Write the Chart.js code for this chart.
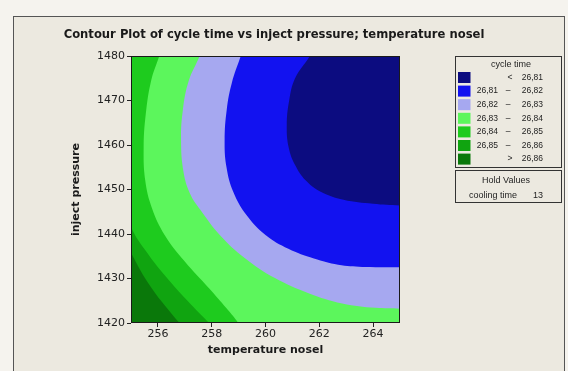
<!DOCTYPE html>
<html>
<head>
<meta charset="utf-8">
<script src="https://cdn.jsdelivr.net/npm/chart.js@4.4.1/dist/chart.umd.min.js"></script>
<style>
  html, body { margin: 0; padding: 0; background: #f5f3ee; }
  #frame { position: absolute; left: 13px; top: 16px; width: 550px; height: 400px; border: 1px solid #555; background: #ece9e0; }
  #wrap { position: absolute; left: 0; top: 0; width: 568px; height: 371px; }
</style>
</head>
<body>
<div id="frame"></div>
<div id="wrap"><canvas id="contour" width="568" height="371"></canvas></div>
<script>
const xRange = [255, 265];
const yRange = [1420, 1480];
const xTicks = [256, 258, 260, 262, 264];
const yTicks = [1420, 1430, 1440, 1450, 1460, 1470, 1480];

// cycle time bands, lowest first
const bandColors = ['#0c0c80', '#1212f0', '#a6a8f0', '#5cf65c', '#1ecb1e', '#10a410', '#0a780a'];
const bandSign = ['<', '\u2013', '\u2013', '\u2013', '\u2013', '\u2013', '>'];
const bandFrom = ['', '26,81', '26,82', '26,83', '26,84', '26,85', ''];
const bandTo = ['26,81', '26,82', '26,83', '26,84', '26,85', '26,86', '26,86'];

const holdName = 'cooling time';
const holdValue = '13';

// contour lines [temperature nosel, inject pressure], traced from the top down
const contourLevels = [26.81, 26.82, 26.83, 26.84, 26.85, 26.86];
const c2681 = [[261.9, 1483], [261.65, 1480], [261.1, 1475], [260.88, 1470], [260.79, 1464.5],
  [260.86, 1459.5], [261.1, 1455.5], [261.5, 1452], [262.05, 1449.5], [262.9, 1447.7],
  [264.0, 1446.8], [265.0, 1446.4], [266.0, 1446.2]];
const c2682 = [[259.25, 1483], [259.08, 1480], [258.75, 1474], [258.56, 1468], [258.48, 1461],
  [258.55, 1455], [258.8, 1449.5], [259.3, 1444.2], [260.0, 1439.8], [260.85, 1436.7],
  [261.8, 1434.5], [262.7, 1433.1], [263.6, 1432.6], [264.4, 1432.5], [265.4, 1432.45]];
const c2683 = [[257.7, 1483], [257.55, 1480], [257.15, 1474.5], [256.93, 1468], [256.86, 1461],
  [256.95, 1454], [257.2, 1449], [257.57, 1445.5], [258.3, 1439.8], [259.25, 1434.5],
  [260.35, 1430.1], [261.6, 1426.7], [262.85, 1424.4], [264.1, 1423.4], [265.0, 1423.2], [266.0, 1423.1]];
const c2684 = [[256.2, 1483], [256.05, 1480], [255.75, 1474.5], [255.55, 1467], [255.47, 1459.5],
  [255.53, 1452], [255.78, 1445.8], [256.25, 1439.8], [257.0, 1433.8], [257.9, 1427.8],
  [258.55, 1423.3], [258.93, 1420.5], [259.2, 1418]];
const c2685 = [[254.4, 1483], [254.45, 1460], [254.65, 1449], [255.0, 1441.6], [255.6, 1435.8],
  [256.3, 1430.4], [257.1, 1425.0], [257.9, 1420.0], [258.2, 1418]];
const c2686 = [[254.0, 1483], [254.1, 1455], [254.45, 1443], [255.0, 1435.8], [255.75, 1428.0],
  [256.8, 1420.0], [257.1, 1418]];
const contourLines = [c2681, c2682, c2683, c2684, c2685, c2686];

const FONT = 'DejaVu Sans';
const SMALL = 'Liberation Sans';

// each contour is filled to the right edge; inner bands sit on top
const datasets = contourLines.map((pts, i) => ({
  label: 'cycle time ' + contourLevels[i],
  data: pts.map(([x, y]) => ({ x, y })),
  backgroundColor: bandColors[i],
  borderWidth: 0,
  pointRadius: 0,
  pointHoverRadius: 0,
  tension: 0.4,
  fill: { value: xRange[1] }
}));

const plotDecor = {
  id: 'plotDecor',
  beforeDatasetsDraw(chart) {
    const { ctx, chartArea: a } = chart;
    ctx.save();
    ctx.fillStyle = bandColors[bandColors.length - 1];
    ctx.fillRect(a.left, a.top, a.right - a.left, a.bottom - a.top);
    ctx.restore();
  },
  afterDraw(chart) {
    const { ctx, chartArea: a } = chart;
    ctx.save();
    // frame round the plot
    ctx.strokeStyle = '#1a1a1a';
    ctx.lineWidth = 1;
    ctx.strokeRect(a.left + 0.5, a.top + 0.5, a.right - a.left - 1, a.bottom - a.top - 1);

    // title
    ctx.fillStyle = '#1a1a1a';
    ctx.font = 'bold 11.6px "' + FONT + '"';
    ctx.textAlign = 'center';
    ctx.textBaseline = 'middle';
    ctx.fillText('Contour Plot of cycle time vs inject pressure; temperature nosel', 274, 35);

    // legend boxes
    const bx = 455, bw = 106;
    ctx.strokeStyle = '#333';
    ctx.strokeRect(bx + 0.5, 56.5, bw, 111);
    ctx.strokeRect(bx + 0.5, 170.5, bw, 32);
    ctx.fillStyle = '#1e1e1e';
    ctx.font = '9px "' + SMALL + '"';
    ctx.textAlign = 'center';
    ctx.fillText('cycle time', 511, 65);
    ctx.font = '8.5px "' + SMALL + '"';
    bandColors.forEach((c, i) => {
      const y = 77.5 + i * 13.6;
      ctx.fillStyle = c;
      ctx.fillRect(458, y - 5.5, 12.5, 11);
      ctx.fillStyle = '#1e1e1e';
      ctx.textAlign = 'center';
      ctx.fillText(bandSign[i], i === 0 || i === 6 ? 510 : 508, y);
      ctx.textAlign = 'right';
      if (bandFrom[i]) ctx.fillText(bandFrom[i], 498, y);
      ctx.fillText(bandTo[i], 543, y);
    });
    ctx.font = '9px "' + SMALL + '"';
    ctx.textAlign = 'center';
    ctx.fillText('Hold Values', 506, 181);
    ctx.textAlign = 'left';
    ctx.fillText(holdName, 469, 196);
    ctx.textAlign = 'right';
    ctx.fillText(holdValue, 543, 196);
    ctx.restore();
  }
};

new Chart(document.getElementById('contour'), {
  type: 'line',
  data: { datasets },
  options: {
    responsive: false,
    animation: false,
    indexAxis: 'y',
    layout: { padding: { left: 0, top: 56, right: 168, bottom: 0 } },
    elements: { line: { capBezierPoints: false } },
    plugins: { legend: { display: false }, tooltip: { enabled: false }, title: { display: false } },
    scales: {
      x: {
        type: 'linear',
        min: xRange[0],
        max: xRange[1],
        afterBuildTicks: s => { s.ticks = xTicks.map(v => ({ value: v })); },
        afterFit: s => { s.height = 48; },
        border: { display: false },
        grid: { drawOnChartArea: false, tickLength: 4, color: '#222' },
        ticks: { font: { family: FONT, size: 11 }, color: '#222', padding: 1, maxRotation: 0, callback: v => String(v) },
        title: {
          display: true, text: 'temperature nosel', color: '#1a1a1a',
          font: { family: FONT, size: 11, weight: 'bold' }, padding: { top: 0, bottom: 14 }
        }
      },
      y: {
        type: 'linear',
        min: yRange[0],
        max: yRange[1],
        afterBuildTicks: s => { s.ticks = yTicks.map(v => ({ value: v })); },
        afterFit: s => { s.width = 131; },
        border: { display: false },
        grid: { drawOnChartArea: false, tickLength: 4, color: '#222' },
        ticks: { font: { family: FONT, size: 11 }, color: '#222', padding: 2, callback: v => String(v) },
        title: {
          display: true, text: 'inject pressure', color: '#1a1a1a',
          font: { family: FONT, size: 11, weight: 'bold' }, padding: { top: 70, bottom: 0 }
        }
      }
    }
  },
  plugins: [plotDecor]
});
</script>
</body>
</html>
